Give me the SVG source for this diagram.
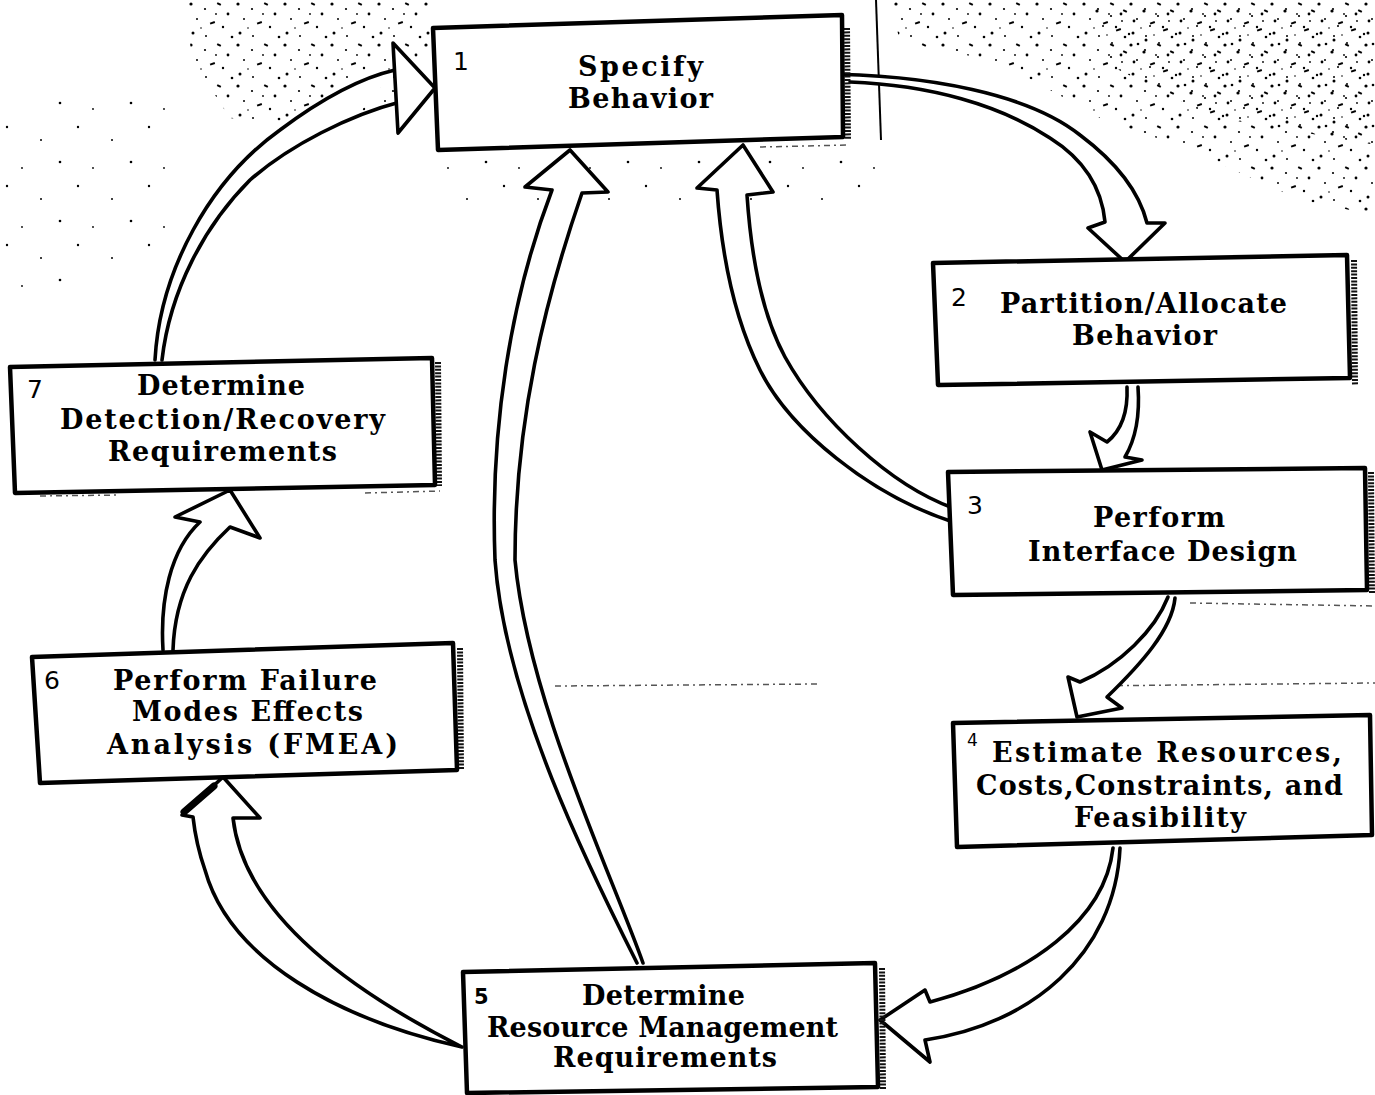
<svg xmlns="http://www.w3.org/2000/svg" width="1375" height="1095" viewBox="0 0 1375 1095">
<style>
.box{fill:#fff;stroke:#000;stroke-width:4.5;stroke-linejoin:round}
.shade{stroke:#111;stroke-width:6;stroke-dasharray:2 1.4;fill:none}
.lbl{font-family:"DejaVu Serif","Liberation Serif",serif;font-weight:bold;font-size:27px;fill:#000}
.num{font-family:"DejaVu Sans","Liberation Sans",sans-serif;font-size:25px;fill:#000}
.arr{fill:#fff;stroke:#000;stroke-width:3.6;stroke-linejoin:round;stroke-linecap:round}
.art{stroke:#555;stroke-width:1.5;fill:none;stroke-dasharray:6 4 2 4}
</style>
<defs>
<pattern id="spk" width="47" height="41" patternUnits="userSpaceOnUse">
<circle cx="3" cy="4" r="1.6" fill="#000"/><circle cx="17" cy="9" r="1.1" fill="#000"/><rect x="29" y="3" width="4" height="2" fill="#000" transform="rotate(25 31 4)"/>
<circle cx="40" cy="14" r="1.4" fill="#000"/><circle cx="9" cy="19" r="1" fill="#000"/><rect x="22" y="22" width="5" height="2" fill="#000" transform="rotate(-20 24 23)"/>
<circle cx="35" cy="27" r="1.2" fill="#000"/><circle cx="5" cy="33" r="1.5" fill="#000"/><circle cx="18" cy="36" r="1" fill="#000"/><circle cx="44" cy="37" r="1.3" fill="#000"/>
<circle cx="28" cy="14" r="0.9" fill="#000"/><circle cx="13" cy="28" r="0.8" fill="#000"/>
</pattern>
<pattern id="spk2" width="71" height="59" patternUnits="userSpaceOnUse">
<circle cx="7" cy="9" r="1.2" fill="#000"/><circle cx="41" cy="22" r="1" fill="#000"/><circle cx="60" cy="44" r="1.3" fill="#000"/><circle cx="22" cy="50" r="0.9" fill="#000"/>
</pattern>
</defs>

<g id="noise">
<path d="M185,0 L430,0 L430,55 L385,105 L300,128 L230,118 L192,60 Z" fill="url(#spk)"/>
<path d="M890,0 L1375,0 L1375,215 L1300,200 L1190,150 L1100,118 L1000,62 L900,42 Z" fill="url(#spk)"/>
<path d="M1080,0 L1375,0 L1375,140 L1200,110 L1100,60 Z" fill="url(#spk)" transform="translate(13,7)"/>
<path d="M0,120 L180,60 L180,260 L0,300 Z" fill="url(#spk2)"/>
<path d="M440,150 L880,140 L880,200 L440,210 Z" fill="url(#spk2)"/>
<line x1="876" y1="0" x2="881" y2="140" stroke="#000" stroke-width="2"/>
<line class="art" x1="555" y1="686" x2="820" y2="684"/>
<line class="art" x1="1085" y1="686" x2="1375" y2="683"/>
<line class="art" x1="1190" y1="603" x2="1375" y2="606"/>
<line class="art" x1="40" y1="496" x2="120" y2="495"/>
<line class="art" x1="365" y1="493" x2="440" y2="491"/>
<line class="art" x1="760" y1="147" x2="850" y2="145"/>
</g>

<g id="connectors">
<path id="a12" class="arr" d="M817,74 C930,74 1030,95 1080,135 C1120,165 1140,195 1147,223 L1165,223 L1125,262 L1088,228 L1105,222 C1102,190 1085,160 1050,138 C1000,105 930,85 850,82"/>
<path id="a71" class="arr" d="M155,360 C160,270 210,180 280,130 C320,100 360,78 395,70 M400,102 C350,115 290,145 250,180 C205,225 170,290 162,360"/>
<path class="arr" d="M393,43 L435,88 L398,133 Z" fill="none"/>
<path id="a51" class="arr" d="M637,963 C590,870 505,700 495,560 C490,430 510,300 552,190 L525,187 L570,150 L608,192 L582,193 C545,300 515,420 515,560 C528,700 610,870 643,963"/>
<path id="a31" class="arr" d="M953,522 C870,495 790,430 760,370 C735,320 722,260 717,190 L697,188 L743,145 L773,192 L747,195 C752,270 765,320 785,357 C820,420 890,485 953,508"/>
<path id="a23" class="arr" d="M1127,387 C1128,410 1122,430 1107,442 L1090,432 L1102,470 L1142,460 L1125,457 C1135,440 1140,415 1138,387"/>
<path id="a34" class="arr" d="M1168,597 C1155,630 1120,665 1080,682 L1068,677 L1077,717 L1122,708 L1107,697 C1140,665 1172,630 1175,598"/>
<path id="a45" class="arr" d="M1113,848 C1105,920 1030,975 930,1002 L925,990 L880,1020 L930,1062 L925,1040 C1030,1025 1115,955 1120,848"/>
<path id="a56" class="arr" d="M462,1047 C340,1020 230,960 205,870 C198,850 195,835 193,817 L182,815 L223,777 L260,818 L233,818 C240,880 290,960 462,1047"/>
<line x1="184" y1="812" x2="214" y2="786" stroke="#000" stroke-width="7" stroke-linecap="round"/>
<path id="a67" class="arr" d="M163,650 C160,600 170,550 200,522 L175,517 L230,490 L260,538 L230,527 C200,555 175,590 173,650"/>
</g>

<g id="node1">
<line class="shade" x1="847" y1="28" x2="848" y2="140"/>
<polygon class="box" points="433,28 842,15 843,137 438,150"/>
<text class="num" x="453" y="70">1</text>
<text class="lbl" x="578" y="76" textLength="125" lengthAdjust="spacing">Specify</text>
<text class="lbl" x="568" y="108" textLength="145" lengthAdjust="spacing">Behavior</text>
</g>

<g id="node2">
<line class="shade" x1="1354" y1="260" x2="1355" y2="385"/>
<polygon class="box" points="933,263 1347,255 1350,378 938,385"/>
<text class="num" x="951" y="306">2</text>
<text class="lbl" x="1000" y="313" textLength="287" lengthAdjust="spacing">Partition/Allocate</text>
<text class="lbl" x="1072" y="345" textLength="145" lengthAdjust="spacing">Behavior</text>
</g>

<g id="node3">
<line class="shade" x1="1371" y1="472" x2="1372" y2="594"/>
<polygon class="box" points="948,472 1365,468 1367,590 953,595"/>
<text class="num" x="967" y="514">3</text>
<text class="lbl" x="1093" y="527" textLength="132" lengthAdjust="spacing">Perform</text>
<text class="lbl" x="1028" y="561" textLength="269" lengthAdjust="spacing">Interface Design</text>
</g>

<g id="node4">
<polygon class="box" points="953,723 1370,715 1372,835 957,847"/>
<text class="num" x="967" y="746" style="font-size:17px">4</text>
<text class="lbl" x="992" y="762" textLength="350" lengthAdjust="spacing">Estimate Resources,</text>
<text class="lbl" x="976" y="795" textLength="367" lengthAdjust="spacing">Costs,Constraints, and</text>
<text class="lbl" x="1074" y="827" textLength="172" lengthAdjust="spacing">Feasibility</text>
</g>

<g id="node5">
<line class="shade" x1="882" y1="968" x2="883" y2="1090"/>
<polygon class="box" points="463,972 875,963 878,1087 467,1093"/>
<text class="num" x="474" y="1004" style="font-weight:bold;font-size:21px">5</text>
<text class="lbl" x="582" y="1005" textLength="163" lengthAdjust="spacing">Determine</text>
<text class="lbl" x="487" y="1037" textLength="351" lengthAdjust="spacing">Resource Management</text>
<text class="lbl" x="553" y="1067" textLength="224" lengthAdjust="spacing">Requirements</text>
</g>

<g id="node6">
<line class="shade" x1="460" y1="648" x2="461" y2="770"/>
<polygon class="box" points="32,657 453,643 457,770 40,783"/>
<text class="num" x="44" y="689">6</text>
<text class="lbl" x="113" y="690" textLength="264" lengthAdjust="spacing">Perform Failure</text>
<text class="lbl" x="132" y="721" textLength="231" lengthAdjust="spacing">Modes Effects</text>
<text class="lbl" x="107" y="754" textLength="291" lengthAdjust="spacing">Analysis (FMEA)</text>
</g>

<g id="node7">
<line class="shade" x1="438" y1="362" x2="439" y2="486"/>
<polygon class="box" points="10,367 432,358 435,485 15,493"/>
<text class="num" x="27" y="398">7</text>
<text class="lbl" x="137" y="395" textLength="168" lengthAdjust="spacing">Determine</text>
<text class="lbl" x="60" y="429" textLength="325" lengthAdjust="spacing">Detection/Recovery</text>
<text class="lbl" x="108" y="461" textLength="229" lengthAdjust="spacing">Requirements</text>
</g>
</svg>
